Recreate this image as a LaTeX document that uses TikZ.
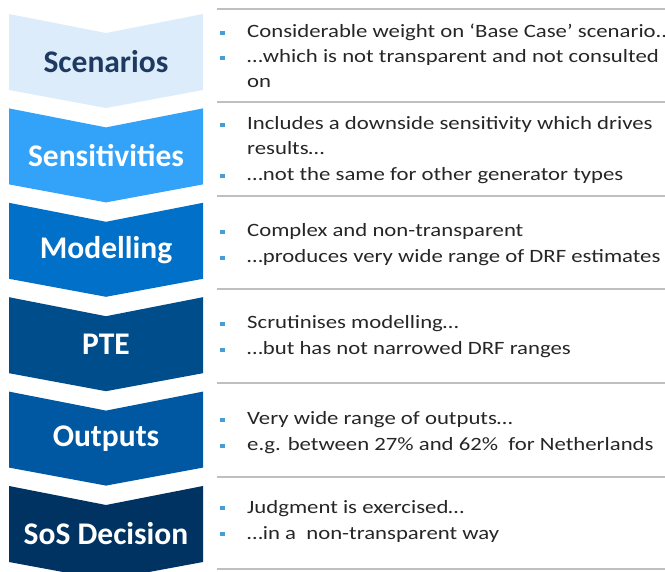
\documentclass[tikz,border=0pt]{standalone}
\usepackage{fontspec}
\setmainfont{Carlito}
\newfontfamily\bodyfont[FakeStretch=1.21]{Carlito}
\definecolor{scenblue}{RGB}{221,236,251}
\definecolor{scennavy}{RGB}{31,58,96}
\definecolor{sensblue}{RGB}{51,163,250}
\definecolor{mdlblue}{RGB}{0,112,200}
\definecolor{pteblue}{RGB}{0,77,140}
\definecolor{outblue}{RGB}{0,88,163}
\definecolor{sosblue}{RGB}{0,51,97}
\definecolor{bulletblue}{RGB}{72,158,212}
\definecolor{txtgray}{RGB}{38,38,38}
\newcommand{\blt}{\makebox[27pt][l]{\textcolor{bulletblue}{\rule[2.5pt]{4.8pt}{4.8pt}}}}
\newcommand{\chev}[1]{(9,#1) -- (106,#1+19) -- (203,#1) -- (203,#1+76) -- (106,#1+94) -- (9,#1+76) -- cycle}

\begin{document}
\begin{tikzpicture}
[
  x=1pt, y=-1pt,
	scen/.style={fill=scenblue},
	sens/.style={fill=sensblue},
	mdl/.style={fill=mdlblue},
	pte/.style={fill=pteblue},
	outp/.style={fill=outblue},
	sos/.style={fill=sosblue},
	lbl/.style={text=white,font=\fontsize{31.5}{31.5}\selectfont\bfseries,inner sep=0},
	sep/.style={draw=black!25,line width=1.5pt},
	txt/.style={anchor=base west,inner sep=0,text=txtgray,font=\bodyfont\fontsize{18.8}{26}\selectfont}
]
\useasboundingbox (0,0) rectangle (665,572);

\fill[scen] \chev{14};
\fill[sens] \chev{108.4};
\fill[mdl] \chev{202.8};
\fill[pte] \chev{297.2};
\fill[outp] \chev{391.6};
\fill[sos] \chev{486};

\node[lbl,text=scennavy] (scenLbl) at (106,61.5) {Scenarios};
\node[lbl] (sensLbl) at (106,155.9) {Sensitivities};
\node[lbl] (mdlLbl) at (106,250.3) {Modelling};
\node[lbl] (pteLbl) at (106,344.7) {PTE};
\node[lbl] (outLbl) at (106,439.1) {Outputs};
\node[lbl] (sosLbl) at (106,533.5) {SoS Decision};

\draw[sep] (217,9) -- (665,9);
\draw[sep] (217,102) -- (665,102);
\draw[sep] (217,196) -- (665,196);
\draw[sep] (217,289) -- (665,289);
\draw[sep] (217,383) -- (665,383);
\draw[sep] (217,477) -- (665,477);
\draw[sep] (217,569) -- (665,569);

\node[txt] (scenA) at (220,38) {\blt Considerable weight on ‘Base Case’ scenario..};
\node[txt] (scenB) at (220,63) {\blt …which is not transparent and not consulted};
\node[txt] (scenC) at (247,88) {on};

\node[txt] (sensA) at (220,130) {\blt Includes a downside sensitivity which drives};
\node[txt] (sensB) at (247,155) {results…};
\node[txt] (sensC) at (220,181) {\blt …not the same for other generator types};

\node[txt] (mdlA) at (220,237) {\blt Complex and non-transparent};
\node[txt] (mdlB) at (220,263) {\blt …produces very wide range of DRF estimates};

\node[txt] (pteA) at (220,329) {\blt Scrutinises modelling…};
\node[txt] (pteB) at (220,355) {\blt …but has not narrowed DRF ranges};

\node[txt] (outA) at (220,425) {\blt Very wide range of outputs…};
\node[txt] (outB) at (220,451) {\blt e.g. between 27\% and 62\% \ for Netherlands};

\node[txt] (sosA) at (220,513) {\blt Judgment is exercised…};
\node[txt] (sosB) at (220,539) {\blt …in a \ non-transparent way};

\end{tikzpicture}
\end{document}
